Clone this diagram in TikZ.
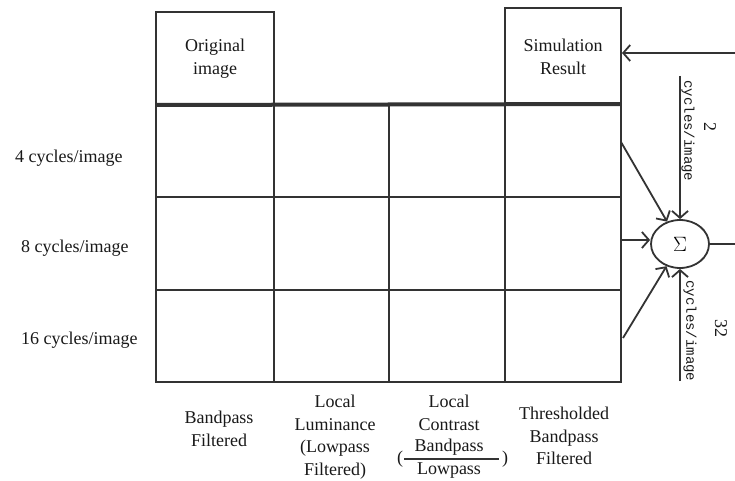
\documentclass[tikz,border=0pt]{standalone}
\usepackage{fontspec}
\setmainfont{Liberation Serif}
\newfontfamily\monof{Liberation Mono}
\usetikzlibrary{arrows.meta,shapes.geometric}
\begin{document}
\begin{tikzpicture}[x=1pt,y=-1pt,
  ink/.style={draw=black!80, line width=2pt},
  topbox/.style={ink, rectangle, inner sep=0pt, font=\fontsize{18}{23}\selectfont, align=center, text=black!90},
  lbl/.style={font=\fontsize{18}{22.5}\selectfont, align=center, text=black!90, inner sep=0pt},
  arr/.style={draw=black!80, line width=1.8pt, -{Straight Barb[length=7pt,width=16pt,line width=1.8pt]}},
  cyc/.style={font=\monof\fontsize{14}{16}\selectfont, rotate=-90, text=black!90, inner sep=0pt},
  num/.style={font=\fontsize{18}{20}\selectfont, rotate=-90, text=black!90, inner sep=0pt}
]
\useasboundingbox (0,0) rectangle (735,481);
\fill[white] (0,0) rectangle (735,481);

% top boxes
\node[topbox, minimum width=118pt, minimum height=93pt] (orig) at (215,58.5) {Original\\image};
\node[topbox, minimum width=116pt, minimum height=97pt] (sim) at (563,56.5) {Simulation\\Result};

% grid
\coordinate (g00) at (156,105);
\coordinate (g11) at (621,382);
\draw[ink] (g00) rectangle (g11);
\draw[ink] (274,105) -- (274,382);
\draw[ink] (389,105) -- (389,382);
\draw[ink] (505,105) -- (505,382);
\draw[ink] (156,197) -- (621,197);
\draw[ink] (156,290) -- (621,290);
\draw[draw=black!80, line width=4pt] (156,105) -- (621,104);

% row labels
\node[lbl, anchor=west] (r4) at (15,158) {4 cycles/image};
\node[lbl, anchor=west] (r8) at (21,248) {8 cycles/image};
\node[lbl, anchor=west] (r16) at (21,340) {16 cycles/image};

% column labels
\node[lbl] (c1) at (219,429) {Bandpass\\Filtered};
\node[lbl] (c2) at (335,437) {Local\\Luminance\\(Lowpass\\Filtered)};
\node[lbl] (c3) at (449,413) {Local\\Contrast};
\node[lbl] (c3n) at (449,447) {Bandpass};
\node[lbl] (c3d) at (449,471) {Lowpass};
\node[lbl] (c3l) at (400,459) {(};
\node[lbl] (c3r) at (505,459) {)};
\draw[draw=black!80, line width=1.3pt] (c3l.east) ++(1,0) coordinate (fb1) -- (c3r.west -| 499,0) coordinate (fb2);
\node[lbl] (c4) at (564,436) {Thresholded\\Bandpass\\Filtered};

% summation
\node[ellipse, draw=black!80, line width=1.8pt, minimum width=58pt, minimum height=48pt, inner sep=0pt, font=\fontsize{20}{22}\selectfont] (sigma) at (680,244) {$\Sigma$};

\coordinate (o1) at (621,142);
\coordinate (o2) at (621,240);
\coordinate (o3) at (623,338);
\draw[arr] (o1) -- (sigma);
\draw[arr] (o2) -- (o2 -| sigma.west);
\draw[arr] (o3) -- (sigma);

\coordinate (tin) at (680,76);
\coordinate (bin) at (680,381);
\draw[arr] (tin) -- (sigma.north);
\draw[arr] (bin) -- (sigma.south);

\coordinate (fbin) at (735,53);
\draw[arr] (fbin) -- (fbin -| sim.east);
\coordinate (out) at (735,244);
\draw[draw=black!80, line width=1.8pt] (sigma.east) -- (out);

% frequency labels
\node[cyc] (t1) at (688,131) {cycles/image};
\node[num] (t2) at (710,127) {2};
\node[cyc] (b1) at (690,331) {cycles/image};
\node[num] (b2) at (721,328) {32};
\end{tikzpicture}
\end{document}
